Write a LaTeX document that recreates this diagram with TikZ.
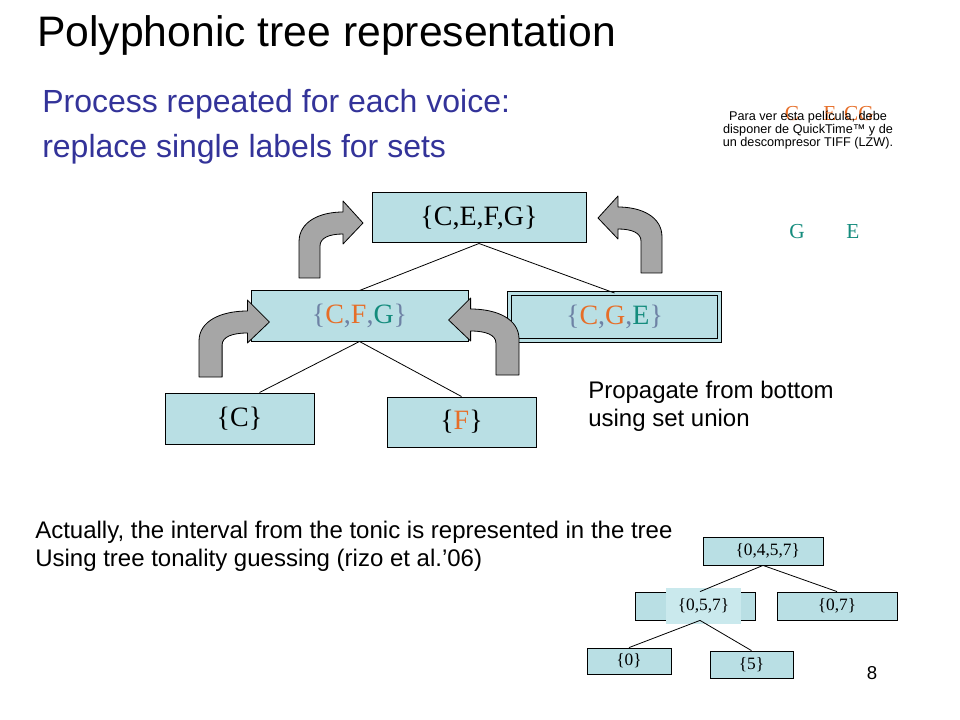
\documentclass[tikz,border=0pt]{standalone}
\usepackage{fontspec}
\setmainfont{Liberation Sans}
\newfontfamily\nodefont{Liberation Serif}

\definecolor{nodecyan}{RGB}{185,223,228}
\definecolor{patchcyan}{RGB}{202,233,237}
\definecolor{noteorange}{RGB}{230,110,40}
\definecolor{noteteal}{RGB}{20,140,125}
\definecolor{bracegray}{RGB}{110,130,165}
\definecolor{subblue}{RGB}{51,51,153}
\definecolor{arrowgray}{RGB}{166,166,166}

\newcommand{\orn}[1]{\textcolor{noteorange}{#1}}
\newcommand{\tel}[1]{\textcolor{noteteal}{#1}}
\newcommand{\brc}[1]{\textcolor{bracegray}{#1}}

\begin{document}
\begin{tikzpicture}[
    x=0.75pt, y=-0.75pt,
    box/.style={draw, line width=0.75pt, fill=nodecyan, inner sep=0pt,
      minimum height=37.5pt, font=\nodefont\fontsize{21}{25}\selectfont},
    small/.style={draw, line width=0.6pt, fill=nodecyan, inner sep=0pt,
      minimum width=90pt, minimum height=21pt, font=\nodefont\fontsize{13}{15}\selectfont},
    edge/.style={line width=0.6pt},
    letter/.style={anchor=base, inner sep=0pt, font=\nodefont\fontsize{16}{18}\selectfont},
    note/.style={anchor=north west, align=left, inner sep=0pt, font=\fontsize{18}{21}\selectfont},
    bendarrow/.pic={
      \filldraw[fill=arrowgray, line width=0.6pt, line join=round]
        (0,0) -- (0,-36) .. controls (0,-56) and (20,-66) .. (44,-66)
        -- (44,-77) -- (64,-55) -- (44,-34) -- (44,-44)
        .. controls (30,-44) and (21,-40) .. (21,-32) -- (21,0) -- cycle;
    }
  ]
  \useasboundingbox (0,0) rectangle (960,720);

  % titles
  \node[anchor=base west, inner sep=0pt, font=\fontsize{32}{38}\selectfont] (title) at (37,47)
    {Polyphonic tree representation};
  \node[anchor=north west, align=left, inner sep=0pt, text=subblue,
    font=\fontsize{24}{33.75}\selectfont] (process) at (42,89)
    {Process repeated for each voice:\\replace single labels for sets};

  % movie placeholder
  \node[letter, text=noteorange] (oc) at (792,121) {C};
  \node[letter, text=noteorange] (oe) at (830,121) {E};
  \node[letter, text=noteorange] (ocg) at (859,121) {CG};
  \node[align=center, inner sep=0pt, font=\fontsize{9.5}{8.8}\selectfont] (qtnote) at (808,130)
    {Para ver esta película, debe\\disponer de QuickTime™ y de\\un descompresor TIFF (LZW).};
  \node[letter, text=noteteal] (tg) at (797,239) {G};
  \node[letter, text=noteteal] (te) at (853,239) {E};

  % main tree
  \node[box, minimum width=160.5pt] (root) at (479,218) {\{C,E,F,G\}};
  \node[box, minimum width=162.75pt] (cfg) at (359.5,316)
    {\brc{\{}\orn{C}\brc{,}\orn{F}\brc{,}\tel{G}\brc{\}}};
  \node[box, minimum width=157.5pt, minimum height=35.25pt, double=nodecyan,
    double distance=2.25pt] (cge) at (614.5,317)
    {\brc{\{}\orn{C}\brc{,}\orn{G}\brc{,}\tel{E}\brc{\}}};
  \node[box, minimum width=111.75pt, minimum height=38.25pt] (cc) at (239.5,418.5) {\{C\}};
  \node[box, minimum width=111.75pt] (ff) at (461.5,422) {\{\orn{F}\}};

  \draw[edge] (root.south) -- (cfg.north);
  \draw[edge] (root.south) -- (cge.north);
  \draw[edge] (cfg.south) -- ([xshift=15pt]cc.north);
  \draw[edge] (cfg.south) -- (ff.north);

  % propagation arrows
  \pic at (299,278) {bendarrow};
  \pic[xscale=-1] at (662,273) {bendarrow};
  \pic[xscale=1.1] at (199,377) {bendarrow};
  \pic[xscale=-1.1] at (519,375) {bendarrow};

  \node[note] (propagate) at (588,381) {Propagate from bottom\\using set union};
  \node[note] (actually) at (35,521)
    {Actually, the interval from the tonic is represented in the tree\\Using tree tonality guessing (rizo et al.’06)};

  % interval tree
  \node[small] (r) at (763,551) {\hspace{7pt}\{0,4,5,7\}};
  \node[small] (a) at (695,606) {};
  \node[fill=patchcyan, inner sep=0pt, minimum width=56.25pt, minimum height=27pt,
    font=\nodefont\fontsize{13}{15}\selectfont] (atext) at (703.5,606) {\{0,5,7\}};
  \node[small] (b) at (837,606) {\{0,7\}};
  \node[small, minimum width=63pt, minimum height=19.5pt] (c) at (629,661) {\{0\}};
  \node[small, minimum width=62.25pt, minimum height=20.25pt] (d) at (751.5,664.5) {\{5\}};

  \draw[edge] (r.south) -- ([xshift=3.75pt]a.north);
  \draw[edge] (r.south) -- (b.north);
  \draw[edge] ([xshift=3.75pt]a.south) -- (c.north);
  \draw[edge] ([xshift=3.75pt]a.south) -- (d.north);

  \node[font=\fontsize{14}{16}\selectfont, inner sep=0pt] (pagenum) at (872,673) {8};
\end{tikzpicture}
\end{document}
